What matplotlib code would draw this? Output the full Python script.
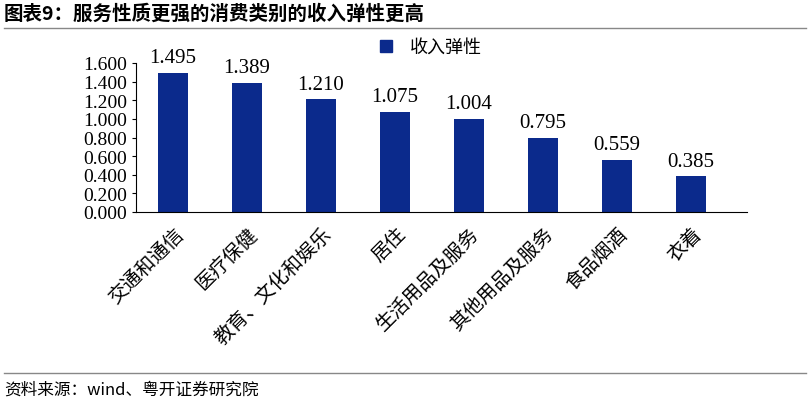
import matplotlib
matplotlib.use('Agg')
import matplotlib.pyplot as plt
from matplotlib.lines import Line2D

categories = ['交通和通信', '医疗保健', '教育、文化和娱乐', '居住', '生活用品及服务', '其他用品及服务', '食品烟酒', '衣着']
values = [1.495, 1.389, 1.210, 1.075, 1.004, 0.795, 0.559, 0.385]
yticks = [0.0, 0.2, 0.4, 0.6, 0.8, 1.0, 1.2, 1.4, 1.6]

cjk = ['Noto Sans CJK SC', 'DejaVu Sans']
serif = ['Liberation Serif', 'DejaVu Serif']
color = '#0b2a8c'

W, H = 810, 406
fig = plt.figure(figsize=(W/100, H/100), dpi=100)
ax = fig.add_axes([136/W, 1-213/H, (728-136)/W, (213-64)/H])
x = range(len(categories))
ax.bar(x, values, width=0.4, color=color)
ax.set_xlim(-0.5, 7.5)
ax.set_ylim(0, 1.6)
ax.set_yticks(yticks)
ax.set_yticklabels([f'{v:.3f}' for v in yticks], fontfamily=serif, fontsize=14)
for i, v in enumerate(values):
    ax.text(i, v + 0.06, f'{v:.3f}', ha='center', va='bottom', fontfamily=serif, fontsize=15, clip_on=False)
ax.set_xticks(list(x))
ax.set_xticklabels(categories, rotation=45, ha='right', rotation_mode='anchor', fontfamily=cjk, fontsize=14)
ax.tick_params(axis='x', length=0, pad=8)
ax.tick_params(axis='y', length=3, direction='out')
for s in ['top', 'right']:
    ax.spines[s].set_visible(False)
ax.spines['bottom'].set_bounds(-0.5, 7.75)

handle = Line2D([], [], marker='s', linestyle='none', color=color, markersize=9)
fig.legend([handle], ['收入弹性'], loc='center', bbox_to_anchor=(425/W, 1-48/H), frameon=False,
           prop={'family': cjk, 'size': 13}, handletextpad=0.3)

fig.text(4/W, 1-14/H, '图表9：服务性质更强的消费类别的收入弹性更高', fontfamily=cjk, fontsize=14,
         fontweight='bold', va='center', ha='left')
fig.add_artist(Line2D([4/W, 806/W], [1-29/H, 1-29/H], color='#888888', lw=1))
fig.add_artist(Line2D([4/W, 806/W], [1-374/H, 1-374/H], color='#888888', lw=1))
fig.text(4/W, 1-390/H, '资料来源：wind、粤开证券研究院', fontfamily=cjk, fontsize=12, style='italic',
         va='center', ha='left')
fig.savefig('out.png', dpi=100)
